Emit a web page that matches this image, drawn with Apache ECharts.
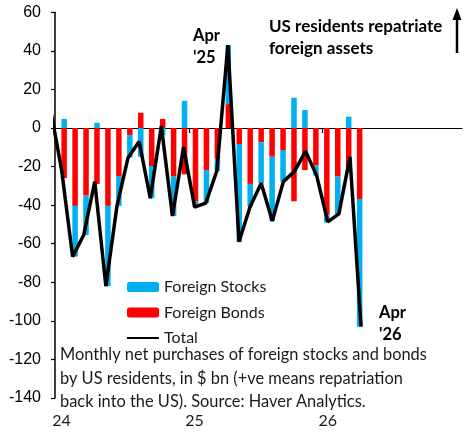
<!DOCTYPE html>
<html>
<head>
<meta charset="utf-8">
<script src="https://cdn.jsdelivr.net/npm/echarts@6/dist/echarts.min.js"></script>
<style>
  html, body { margin: 0; padding: 0; background: #fff; }
  #chart { width: 465px; height: 432px; }
</style>
</head>
<body>
<div id="chart"></div>
<script>
// monthly net purchases of foreign assets by US residents, $ bn
const months = ['Jan 24', 'Feb 24', 'Mar 24', 'Apr 24', 'May 24', 'Jun 24', 'Jul 24', 'Aug 24',
  'Sep 24', 'Oct 24', 'Nov 24', 'Dec 24', 'Jan 25', 'Feb 25', 'Mar 25', 'Apr 25', 'May 25',
  'Jun 25', 'Jul 25', 'Aug 25', 'Sep 25', 'Oct 25', 'Nov 25', 'Dec 25', 'Jan 26', 'Feb 26',
  'Mar 26', 'Apr 26']
const stocks = [4.7, -26.3, -20.5, 2.7, -41.6, -15.2, -11.8, -14.9, -16.7, -3.7, -20.4, 14.1,
  -2.8, -17, -6.3, 30.6, -50.7, -11.8, -21.3, -33.3, -16.4, 15.7, 9.3, -5.2, -3.9, -19.5,
  5.9, -66.2]
const bonds = [-26, -40.4, -35, -29, -40.4, -25.2, -3.6, 7.9, -19.7, 4.7, -25.2, -24,
  -38.2, -21.8, -16, 12.4, -8.3, -29, -7.4, -14.9, -11.4, -38, -21.8, -19.5, -45, -25.2,
  -21, -36.8]
// the line starts with Dec 23, which is cut off by the y axis
const totalMonths = ['Dec 23'].concat(months)
const totals = [10, -21.3, -66.7, -55.5, -27.8, -82, -40.4, -15.4, -7, -36.4, 1, -45.6, -9.9,
  -41, -39, -22.3, 43, -59, -40.8, -28.7, -48.2, -27.8, -22.5, -12, -24.7, -48.7, -44.5,
  -15, -103]
const yearLabels = ['24', '25', '26']
const yTicks = [-140, -120, -100, -80, -60, -40, -20, 0, 20, 40, 60]

const textFont = 'Lato'
const chart = echarts.init(document.getElementById('chart'), null, { renderer: 'canvas' })

const xMin = -0.585
const xMax = 36.1
const yearStarts = yearLabels.map(y => months.indexOf('Jan ' + y))

chart.setOption({
  animation: false,
  grid: { left: 55, right: 3, top: 12.3, bottom: 34 },
  legend: {
    orient: 'vertical',
    left: 126,
    top: 279,
    padding: 0,
    itemWidth: 32,
    itemHeight: 10,
    itemGap: 9.5,
    data: ['Foreign Stocks', 'Foreign Bonds', { name: 'Total', itemStyle: { opacity: 0 } }],
    textStyle: { fontFamily: textFont, fontSize: 16, color: '#1a1a1a' }
  },
  xAxis: [
    {
      type: 'value',
      min: xMin,
      max: xMax,
      axisLine: { onZero: true, lineStyle: { color: '#000', width: 1.2 } },
      axisTick: { show: true, length: 5, lineStyle: { color: '#000', width: 1.2 },
        customValues: yearStarts.slice(1).map(i => i - 0.5) },
      axisLabel: { show: false },
      splitLine: { show: false }
    },
    {
      type: 'value',
      position: 'bottom',
      min: xMin,
      max: xMax,
      axisLine: { show: false, onZero: false },
      axisTick: { show: false },
      splitLine: { show: false },
      axisLabel: {
        customValues: yearStarts,
        margin: 15,
        fontFamily: textFont,
        fontSize: 16,
        color: '#1a1a1a',
        formatter: v => yearLabels[yearStarts.indexOf(Math.round(v))] || ''
      }
    },
    {
      // hidden axis for the bars so that they stack on y
      type: 'time',
      show: false,
      min: xMin,
      max: xMax
    }
  ],
  yAxis: {
    type: 'value',
    min: -140,
    max: 60,
    interval: 20,
    axisLine: { show: true, onZero: false, lineStyle: { color: '#000', width: 1.5 } },
    axisTick: { show: true, length: 4, customValues: yTicks, lineStyle: { color: '#000', width: 1.2 } },
    axisLabel: { fontFamily: 'Liberation Sans', fontSize: 16, color: '#000', margin: 14 },
    splitLine: { show: false }
  },
  series: [
    {
      name: 'Foreign Bonds',
      type: 'bar',
      stack: 'flows',
      xAxisIndex: 2,
      barWidth: 5.5,
      itemStyle: { color: '#ff0000' },
      data: bonds.map((v, i) => [i, v])
    },
    {
      name: 'Foreign Stocks',
      type: 'bar',
      stack: 'flows',
      xAxisIndex: 2,
      barWidth: 5.5,
      itemStyle: { color: '#00b0f0' },
      data: stocks.map((v, i) => [i, v])
    },
    {
      name: 'Total',
      type: 'line',
      symbol: 'none',
      z: 5,
      lineStyle: { color: '#000', width: 3.5 },
      itemStyle: { color: '#000' },
      data: totals.map((v, i) => [i - totalMonths.indexOf('Jan 24'), v])
    }
  ],
  graphic: [
    {
      type: 'text', x: 193, y: 25,
      style: { text: "Apr\n'25", font: 'bold 16.5px ' + textFont, fill: '#000', lineHeight: 22 }
    },
    {
      type: 'text', x: 269, y: 16,
      style: { text: 'US residents repatriate\nforeign assets', font: 'bold 17px ' + textFont,
        fill: '#000', lineHeight: 22 }
    },
    {
      type: 'text', x: 379, y: 302,
      style: { text: "Apr\n'26", font: 'bold 16.5px ' + textFont, fill: '#000', lineHeight: 21.5 }
    },
    {
      type: 'text', x: 60, y: 343,
      style: {
        text: 'Monthly net purchases of foreign stocks and bonds\nby US residents, in $ bn (+ve means repatriation\nback into the US). Source: Haver Analytics.',
        font: '16.4px ' + textFont, fill: '#1a1a1a', lineHeight: 23.5
      }
    },
    {
      type: 'line', shape: { x1: 457, y1: 53, x2: 457, y2: 18 },
      style: { stroke: '#000', lineWidth: 2.5 }
    },
    {
      type: 'polygon', shape: { points: [[452.5, 20], [461.5, 20], [457, 8]] },
      style: { fill: '#000' }
    }
  ]
})
</script>
</body>
</html>
